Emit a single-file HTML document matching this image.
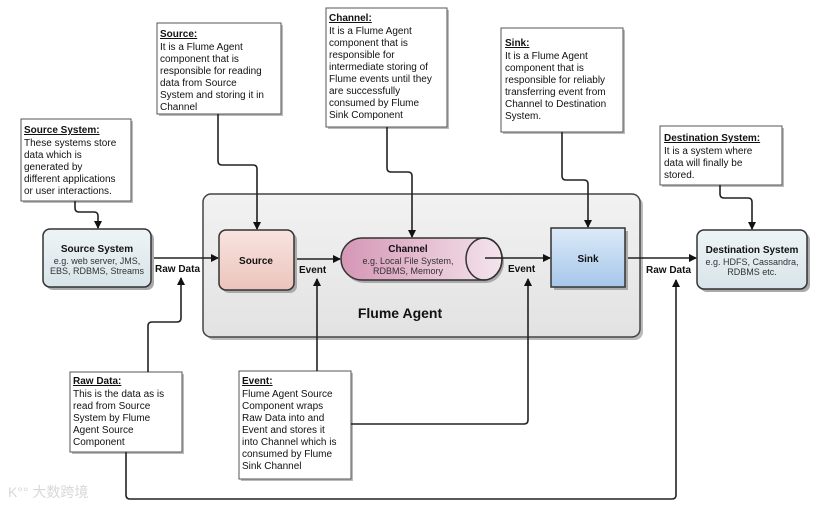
<!DOCTYPE html>
<html><head><meta charset="utf-8"><style>
html,body{margin:0;padding:0;background:#fff;}
svg{display:block;font-family:"Liberation Sans",Arial,sans-serif;}
.c{font-size:10px;fill:#111;}
.t{font-size:10px;font-weight:bold;fill:#111;text-decoration:underline;}
.ln{fill:none;stroke:#222;stroke-width:1.6;}
.lb{font-size:10px;font-weight:bold;fill:#111;}
.s{font-size:9px;fill:#333;}
</style></head><body>
<svg width="825" height="507" viewBox="0 0 825 507" xmlns="http://www.w3.org/2000/svg">
<defs>
<linearGradient id="gss" x1="0" y1="0" x2="0" y2="1"><stop offset="0" stop-color="#eef4f6"/><stop offset="1" stop-color="#d8e4ea"/></linearGradient>
<linearGradient id="gsrc" x1="0" y1="0" x2="0" y2="1"><stop offset="0" stop-color="#f8e4df"/><stop offset="1" stop-color="#ebc4bc"/></linearGradient>
<linearGradient id="gch" x1="0" y1="0" x2="1" y2="0"><stop offset="0" stop-color="#d596b5"/><stop offset="1" stop-color="#f4e4ec"/></linearGradient>
<linearGradient id="gsk" x1="0" y1="0" x2="0" y2="1"><stop offset="0" stop-color="#dceaf8"/><stop offset="1" stop-color="#a6c7ea"/></linearGradient>
<linearGradient id="gag" x1="0" y1="0" x2="0" y2="1"><stop offset="0" stop-color="#f2f2f2"/><stop offset="1" stop-color="#e2e2e2"/></linearGradient>
<marker id="a" markerWidth="8" markerHeight="8" refX="7" refY="4" orient="auto" markerUnits="userSpaceOnUse"><path d="M0,0 L8,4 L0,8 Z" fill="#111"/></marker>
</defs>

<!-- Flume agent -->
<rect x="206" y="197" width="437" height="143" rx="8" fill="#bbb"/>
<rect x="203" y="194" width="437" height="143" rx="8" fill="url(#gag)" stroke="#444" stroke-width="1.5"/>
<text x="400" y="318" text-anchor="middle" font-size="14" font-weight="bold" fill="#111">Flume Agent</text>

<!-- callouts -->
<g>
<rect x="23" y="121" width="110" height="82" fill="#bbb"/>
<rect x="21" y="119" width="110" height="82" fill="#fff" stroke="#555"/>
<text x="24" y="133" class="t">Source System:</text>
<text class="c"><tspan x="24" y="146">These systems store</tspan><tspan x="24" y="158">data which is</tspan><tspan x="24" y="170">generated by</tspan><tspan x="24" y="182">different applications</tspan><tspan x="24" y="194">or user interactions.</tspan></text>

<rect x="159" y="25" width="124" height="91" fill="#bbb"/>
<rect x="157" y="23" width="124" height="91" fill="#fff" stroke="#555"/>
<text x="160" y="37" class="t">Source:</text>
<text class="c"><tspan x="160" y="50">It is a Flume Agent</tspan><tspan x="160" y="62">component that is</tspan><tspan x="160" y="74">responsible for reading</tspan><tspan x="160" y="86">data from Source</tspan><tspan x="160" y="98">System and storing it in</tspan><tspan x="160" y="110">Channel</tspan></text>

<rect x="328" y="10" width="121" height="119" fill="#bbb"/>
<rect x="326" y="8" width="121" height="119" fill="#fff" stroke="#555"/>
<text x="329" y="21" class="t">Channel:</text>
<text class="c"><tspan x="329" y="34">It is a Flume Agent</tspan><tspan x="329" y="46">component that is</tspan><tspan x="329" y="58">responsible for</tspan><tspan x="329" y="70">intermediate storing of</tspan><tspan x="329" y="82">Flume events until they</tspan><tspan x="329" y="94">are successfully</tspan><tspan x="329" y="106">consumed by Flume</tspan><tspan x="329" y="118">Sink Component</tspan></text>

<rect x="503" y="30" width="122" height="104" fill="#bbb"/>
<rect x="501" y="28" width="122" height="104" fill="#fff" stroke="#555"/>
<text x="505" y="46" class="t">Sink:</text>
<text class="c"><tspan x="505" y="59">It is a Flume Agent</tspan><tspan x="505" y="71">component that is</tspan><tspan x="505" y="83">responsible for reliably</tspan><tspan x="505" y="95">transferring event from</tspan><tspan x="505" y="107">Channel to Destination</tspan><tspan x="505" y="119">System.</tspan></text>

<rect x="662" y="128" width="122" height="59" fill="#bbb"/>
<rect x="660" y="126" width="122" height="59" fill="#fff" stroke="#555"/>
<text x="664" y="141" class="t">Destination System:</text>
<text class="c"><tspan x="664" y="154">It is a system where</tspan><tspan x="664" y="166">data will finally be</tspan><tspan x="664" y="178">stored.</tspan></text>

<rect x="72" y="374" width="112" height="80" fill="#bbb"/>
<rect x="70" y="372" width="112" height="80" fill="#fff" stroke="#555"/>
<text x="73" y="384" class="t">Raw Data:</text>
<text class="c"><tspan x="73" y="397">This is the data as is</tspan><tspan x="73" y="409">read from Source</tspan><tspan x="73" y="421">System by Flume</tspan><tspan x="73" y="433">Agent Source</tspan><tspan x="73" y="445">Component</tspan></text>

<rect x="241" y="373" width="112" height="108" fill="#bbb"/>
<rect x="239" y="371" width="112" height="108" fill="#fff" stroke="#555"/>
<text x="242" y="384" class="t">Event:</text>
<text class="c"><tspan x="242" y="397">Flume Agent Source</tspan><tspan x="242" y="409">Component wraps</tspan><tspan x="242" y="421">Raw Data into and</tspan><tspan x="242" y="433">Event and stores it</tspan><tspan x="242" y="445">into Channel which is</tspan><tspan x="242" y="457">consumed by Flume</tspan><tspan x="242" y="469">Sink Channel</tspan></text>
</g>

<!-- connectors from callouts -->
<path class="ln" d="M75,201 V208 Q75,212 79,212 H94 Q98,212 98,216 V228" marker-end="url(#a)"/>
<path class="ln" d="M218,114 V161 Q218,165 222,165 H253 Q257,165 257,169 V229" marker-end="url(#a)"/>
<path class="ln" d="M387,127 V168 Q387,172 391,172 H408 Q412,172 412,176 V237" marker-end="url(#a)"/>
<path class="ln" d="M562,132 V176 Q562,180 566,180 H584 Q588,180 588,184 V227" marker-end="url(#a)"/>
<path class="ln" d="M720,185 V194 Q720,198 724,198 H748 Q752,198 752,202 V229" marker-end="url(#a)"/>
<path class="ln" d="M148,372 V326 Q148,322 152,322 H177 Q181,322 181,318 V278" marker-end="url(#a)"/>
<path class="ln" d="M317,371 V279" marker-end="url(#a)"/>
<path class="ln" d="M351,424 H524 Q528,424 528,420 V279" marker-end="url(#a)"/>
<path class="ln" d="M126,452 V495 Q126,499 130,499 H672 Q676,499 676,495 V280" marker-end="url(#a)"/>

<!-- main flow -->
<path class="ln" d="M151,258 H218" marker-end="url(#a)"/>
<path class="ln" d="M294,259 H340" marker-end="url(#a)"/>
<path class="ln" d="M625,258 H696" marker-end="url(#a)"/>

<!-- source system -->
<rect x="46" y="232" width="108" height="58" rx="7" fill="#aaa"/>
<rect x="43" y="229" width="108" height="58" rx="7" fill="url(#gss)" stroke="#333" stroke-width="1.5"/>
<text x="97" y="252" text-anchor="middle" font-size="10" font-weight="bold" fill="#111">Source System</text>
<text x="97" y="264" text-anchor="middle" class="s">e.g. web server, JMS,</text>
<text x="97" y="274" text-anchor="middle" class="s">EBS, RDBMS, Streams</text>

<!-- source -->
<rect x="222" y="233" width="75" height="60" rx="7" fill="#aaa"/>
<rect x="219" y="230" width="75" height="60" rx="7" fill="url(#gsrc)" stroke="#333" stroke-width="1.5"/>
<text x="256" y="264" text-anchor="middle" font-size="10" font-weight="bold" fill="#111">Source</text>

<!-- channel -->
<path d="M364,241 H486 A18,21 0 0 1 486,283 H364 A21,21 0 0 1 364,241 Z" fill="#aaa"/>
<path d="M362,238 H484 A18,21 0 0 1 484,280 H362 A21,21 0 0 1 362,238 Z" fill="url(#gch)" stroke="#333" stroke-width="1.5"/>
<ellipse cx="484" cy="259" rx="18" ry="21" fill="none" stroke="#333" stroke-width="1.5"/>
<text x="408" y="252" text-anchor="middle" font-size="10" font-weight="bold" fill="#111">Channel</text>
<text x="408" y="264" text-anchor="middle" class="s">e.g. Local File System,</text>
<text x="408" y="274" text-anchor="middle" class="s">RDBMS, Memory</text>
<path class="ln" d="M485,258 H550" marker-end="url(#a)"/>

<!-- sink -->
<rect x="554" y="231" width="74" height="59" fill="#aaa"/>
<rect x="551" y="228" width="74" height="59" fill="url(#gsk)" stroke="#333" stroke-width="1.5"/>
<text x="588" y="262" text-anchor="middle" font-size="10" font-weight="bold" fill="#111">Sink</text>

<!-- destination -->
<rect x="700" y="233" width="110" height="59" rx="7" fill="#aaa"/>
<rect x="697" y="230" width="110" height="59" rx="7" fill="url(#gss)" stroke="#333" stroke-width="1.5"/>
<text x="752" y="253" text-anchor="middle" font-size="10" font-weight="bold" fill="#111">Destination System</text>
<text x="752" y="265" text-anchor="middle" class="s">e.g. HDFS, Cassandra,</text>
<text x="752" y="275" text-anchor="middle" class="s">RDBMS etc.</text>

<!-- labels -->
<text x="155" y="272" class="lb">Raw Data</text>
<text x="299" y="273" class="lb">Event</text>
<text x="508" y="272" class="lb">Event</text>
<text x="646" y="273" class="lb">Raw Data</text>

<!-- watermark -->
<text x="8" y="497" font-size="14" fill="#d8d8d8" font-family="'Liberation Sans','Noto Sans CJK SC',sans-serif">K°° 大数跨境</text>
</svg>
</body></html>
